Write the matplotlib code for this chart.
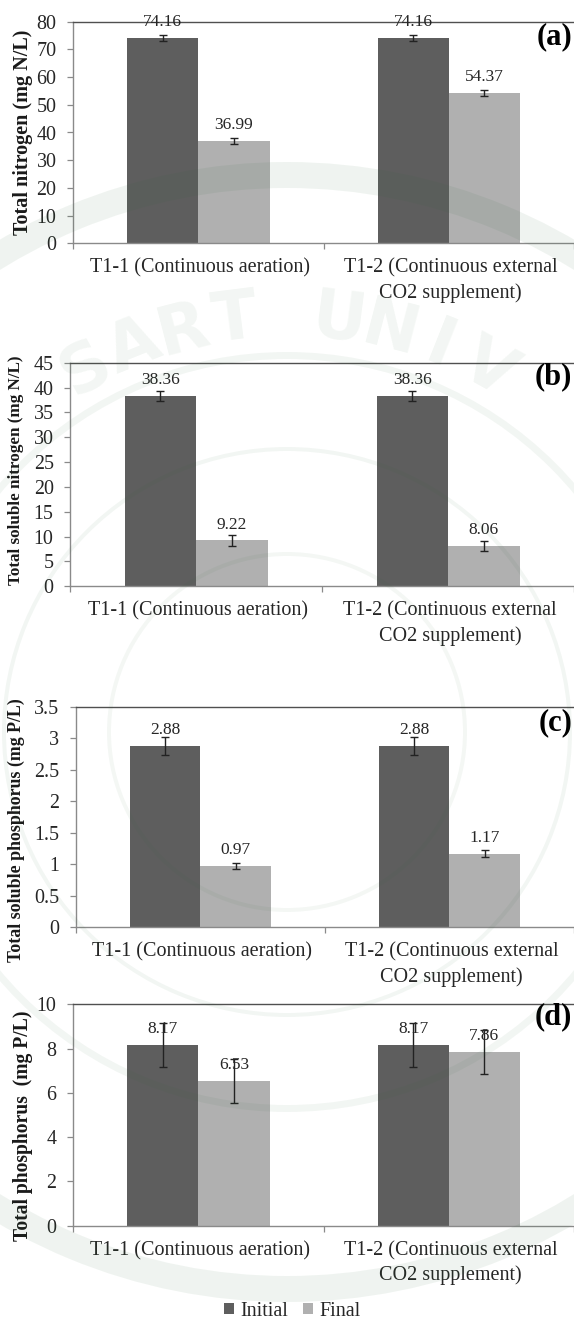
import matplotlib
matplotlib.use("Agg")
import matplotlib.pyplot as plt
from matplotlib.patches import Annulus, Patch
from matplotlib.transforms import ScaledTranslation
import numpy as np

plt.rcParams['font.family'] = ['Liberation Serif', 'DejaVu Serif']

W, H = 574, 1320
categories = ["T1-1 (Continuous aeration)", "T1-2 (Continuous external\nCO2 supplement)"]
series_names = ["Initial", "Final"]

tn_initial = [74.16, 74.16]
tn_final = [36.99, 54.37]
tn_err_initial = [1.15, 1.15]
tn_err_final = [1.15, 1.15]

tsn_initial = [38.36, 38.36]
tsn_final = [9.22, 8.06]
tsn_err_initial = [1.0, 1.0]
tsn_err_final = [1.05, 1.0]

tsp_initial = [2.88, 2.88]
tsp_final = [0.97, 1.17]
tsp_err_initial = [0.14, 0.14]
tsp_err_final = [0.05, 0.06]

tp_initial = [8.17, 8.17]
tp_final = [6.53, 7.86]
tp_err_initial = [1.0, 1.0]
tp_err_final = [1.0, 1.0]

DARK, LIGHT = '#5e5e5e', '#b0b0b0'
TXT = '#262626'
fig = plt.figure(figsize=(W/100, H/100), dpi=100, facecolor='white')

def px_axes(left, top, right, bottom):
    return fig.add_axes([left/W, 1-bottom/H, (right-left)/W, (bottom-top)/H])

panels = [
    dict(box=(73.2, 21.7, 574, 243.3), ymax=80, step=10, init=tn_initial, fin=tn_final,
         ei=tn_err_initial, ef=tn_err_final, tag='(a)', tagy=37, ylabel='Total nitrogen (mg N/L)',
         lx=23, ly=132, ls=14.5),
    dict(box=(70.3, 362.7, 574, 586.3), ymax=45, step=5, init=tsn_initial, fin=tsn_final,
         ei=tsn_err_initial, ef=tsn_err_final, tag='(b)', tagy=377, ylabel='Total soluble nitrogen (mg N/L)',
         lx=15.6, ly=470, ls=12.3),
    dict(box=(75.8, 706.7, 574, 927.3), ymax=3.5, step=0.5, init=tsp_initial, fin=tsp_final,
         ei=tsp_err_initial, ef=tsp_err_final, tag='(c)', tagy=723, ylabel='Total soluble phosphorus (mg P/L)',
         lx=16.4, ly=830, ls=12.9),
    dict(box=(73.2, 1004.3, 574, 1225.7), ymax=10, step=2, init=tp_initial, fin=tp_final,
         ei=tp_err_initial, ef=tp_err_final, tag='(d)', tagy=1017, ylabel='Total phosphorus  (mg P/L)',
         lx=23, ly=1126, ls=14.1),
]

bw = 0.284
label_shift = ScaledTranslation(2/100, 0, fig.dpi_scale_trans)
for p in panels:
    ax = px_axes(*p['box'])
    ax.patch.set_alpha(0)
    x = np.arange(len(categories))
    ekw = dict(ecolor='#222222', elinewidth=1.0, capsize=3.0, capthick=1.0)
    ax.bar(x-bw/2, p['init'], bw, color=DARK, yerr=p['ei'], error_kw=ekw)
    ax.bar(x+bw/2, p['fin'], bw, color=LIGHT, yerr=p['ef'], error_kw=ekw)
    for xs, vals in ((x-bw/2, p['init']), (x+bw/2, p['fin'])):
        for xi, v in zip(xs, vals):
            ax.annotate(f"{v:.2f}", (xi, v), xytext=(0, 11.5), textcoords='offset points',
                        ha='center', va='center', fontsize=12.5, color=TXT, annotation_clip=False)
    ax.set_xlim(-0.5, 1.5)
    ax.set_ylim(0, p['ymax'])
    ticks = np.arange(0, p['ymax']+1e-6, p['step'])
    ax.set_yticks(ticks)
    ax.set_yticklabels([f"{t:g}" for t in ticks])
    ax.set_xticks([-0.5, 0.5, 1.5])
    ax.set_xticklabels([])
    ax.set_xticks(x, minor=True)
    ax.set_xticklabels(categories, minor=True, linespacing=1.36)
    ax.tick_params(axis='y', length=4, width=0.9, color='#8a8a8a', labelsize=14.4, labelcolor=TXT, pad=8)
    ax.tick_params(axis='x', which='major', length=4, width=0.9, color='#8a8a8a')
    ax.tick_params(axis='x', which='minor', length=0, labelsize=14.5, labelcolor=TXT, pad=11)
    for lbl in ax.get_xticklabels(minor=True):
        lbl.set_transform(lbl.get_transform() + label_shift)
    for s in ('left', 'bottom'):
        ax.spines[s].set_color('#8a8a8a')
        ax.spines[s].set_linewidth(1.0)
    ax.spines['top'].set_color('#505050')
    ax.spines['top'].set_linewidth(1.0)
    ax.spines['right'].set_visible(False)
    fig.text(p['lx']/W, 1-p['ly']/H, p['ylabel'], rotation=90, ha='center', va='center',
             fontsize=p['ls'], fontweight='bold', color='#1a1a1a')
    fig.text(572/W, 1-p['tagy']/H, p['tag'], ha='right', va='center', fontsize=22,
             fontweight='bold', color='black')

handles = [Patch(facecolor=DARK), Patch(facecolor=LIGHT)]
fig.legend(handles, series_names, loc='center', bbox_to_anchor=(292/W, 1-1311/H), ncol=2, frameon=False,
           fontsize=14.5, handlelength=0.5, handleheight=0.5, handletextpad=0.3, columnspacing=0.75,
           labelcolor=TXT)

# faint university seal watermark showing through the page
wm = fig.add_axes([0, 0, 1, 1], zorder=10)
wm.set_xlim(0, W); wm.set_ylim(H, 0); wm.axis('off')
wm.patch.set_alpha(0)
GREEN = '#2e6b3a'
wm.add_patch(Annulus((287, 732), 570, 26, color=GREEN, alpha=0.075, lw=0))
wm.add_patch(Annulus((287, 732), 380, 7, color=GREEN, alpha=0.06, lw=0))
wm.add_patch(Annulus((287, 732), 285, 4, color=GREEN, alpha=0.06, lw=0))
wm.add_patch(Annulus((287, 732), 180, 4, color=GREEN, alpha=0.05, lw=0))
letters = "SART UNIV"
angles = np.linspace(-29, 29, len(letters))
for ch, ang in zip(letters, angles):
    r = 415
    a = np.deg2rad(ang)
    wm.text(287 + r*np.sin(a), 732 - r*np.cos(a), ch, rotation=-ang, rotation_mode='anchor',
            ha='center', va='center', fontsize=48, fontweight='bold', family='DejaVu Sans',
            color=GREEN, alpha=0.06)

fig.savefig('out.png', dpi=100)
